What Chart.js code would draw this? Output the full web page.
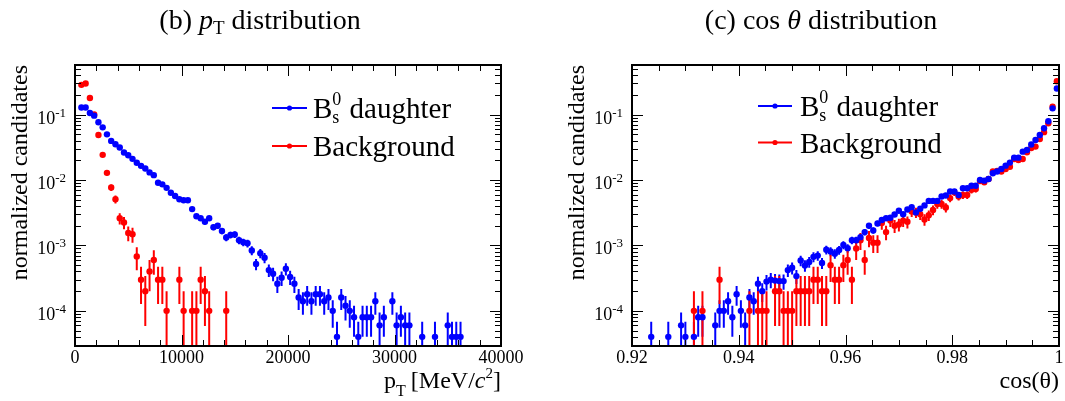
<!DOCTYPE html>
<html><head><meta charset="utf-8">
<script src="https://cdn.jsdelivr.net/npm/chart.js@4.4.1/dist/chart.umd.min.js"></script>
<style>
html,body{margin:0;padding:0;background:#fff;width:1065px;height:401px;overflow:hidden;}
#wrapA{position:absolute;left:0;top:0;width:532px;height:401px;}
#wrapB{position:absolute;left:532px;top:0;width:533px;height:401px;}
canvas{display:block;}
</style></head><body>
<div id="wrapA"><canvas id="cA" width="532" height="401"></canvas></div>
<div id="wrapB"><canvas id="cB" width="533" height="401"></canvas></div>
<script>
// ---------------- data ----------------
const ptBinCenters = [600,1000,1400,1800,2200,2600,3000,3400,3800,4200,4600,5000,5400,5800,6200,6600,7000,7400,7800,8200,8600,9000,9400,9800,10200,10600,11000,11400,11800,12200,12600,13000,13400,13800,14200,14600,15000,15400,15800,16200,16600,17000,17400,17800,18200,18600,19000,19400,19800,20200,20600,21000,21400,21800,22200,22600,23000,23400,23800,24200,24600,25000,25400,25800,26200,26600,27000,27400,27800,28200,28600,29000,29400,29800,30200,30600,31000,31400,31800,32200,32600,33000,33400,33800,34200,34600,35000,35400,35800,36200];
const ptDaughter = [0.129,0.129,0.106,0.0966,0.0764,0.064,0.050,0.0397,0.0353,0.0315,
 0.0264,0.024,0.0211,0.0184,0.0165,0.015,0.0131,0.0119,0.0091,0.0086,
 0.0076,0.0064,0.0057,0.0051,0.0049,0.0049,0.0036,0.0028,0.0026,0.0023,
 0.0026,0.0019,0.0020,0.00166,0.00132,0.00145,0.00147,0.0012,0.00112,0.00108,
 0.00084,0.00052,0.00076,0.00065,0.00042,0.00037,0.00026,0.00032,0.00044,0.00033,
 0.00026,0.00016,0.00014,0.00018,0.00014,0.00018,0.00018,0.00014,0.00016,0.0001,
 0.00004,0.00016,0.00012,0.0001,0.00008,0.00004,0.00008,0.00008,0.00008,0.00014,
 0.00006,0.00008,null,0.00014,0.00006,0.00008,0.00006,0.00006,null,null,
 0.00004,null,null,0.00004,null,null,0.00006,0.00004,0.00004,0.00004];
const ptBackground = [0.286,0.30,0.18,0.101,0.049,0.0243,0.0129,0.0077,0.0051,0.0026,
 0.00225,0.00155,0.00148,0.00068,0.0003,0.0002,0.0004,0.0006,0.0003,0.0003,
 0.0001,null,null,0.0003,0.0001,null,0.0001,0.0001,0.0003,0.0002,
 0.0001,null,null,null,0.0001,null,null,null,null,null,
 null,null,null,null,null,null,null,null,null,null,
 null,null,null,null,null,null,null,null,null,null,
 null,null,null,null,null,null,null,null,null,null,
 null,null,null,null,null,null,null,null,null,null,
 null,null,null,null,null,null,null,null,null,null];
const cosBinCenters = [0.9204,0.9212,0.922,0.9228,0.9236,0.9244,0.9252,0.926,0.9268,0.9276,
 0.9284,0.9292,0.93,0.9308,0.9316,0.9324,0.9332,0.934,0.9348,0.9356,
 0.9364,0.9372,0.938,0.9388,0.9396,0.9404,0.9412,0.942,0.9428,0.9436,
 0.9444,0.9452,0.946,0.9468,0.9476,0.9484,0.9492,0.95,0.9508,0.9516,
 0.9524,0.9532,0.954,0.9548,0.9556,0.9564,0.9572,0.958,0.9588,0.9596,
 0.9604,0.9612,0.962,0.9628,0.9636,0.9644,0.9652,0.966,0.9668,0.9676,
 0.9684,0.9692,0.97,0.9708,0.9716,0.9724,0.9732,0.974,0.9748,0.9756,
 0.9764,0.9772,0.978,0.9788,0.9796,0.9804,0.9812,0.982,0.9828,0.9836,
 0.9844,0.9852,0.986,0.9868,0.9876,0.9884,0.9892,0.99,0.9908,0.9916,
 0.9924,0.9932,0.994,0.9948,0.9956,0.9964,0.9972,0.998,0.9988,0.9996];
const cosDaughter = [null,null,null,null,4e-5,null,null,null,4e-5,null,
 null,6e-5,4e-5,null,4e-5,8e-5,8e-5,null,null,6e-5,
 1e-4,1e-4,1.4e-4,8e-5,1.8e-4,1e-4,6e-5,1.6e-4,1.4e-4,2.6e-4,
 2.0e-4,2.8e-4,3.0e-4,2.9e-4,2.85e-4,2.85e-4,4.2e-4,4.55e-4,3.4e-4,5.9e-4,
 4.95e-4,5.6e-4,6.7e-4,7.0e-4,5.4e-4,8.6e-4,8.1e-4,7.5e-4,8.5e-4,1.02e-3,
 9.1e-4,1.2e-3,1.2e-3,1.34e-3,1.6e-3,2.0e-3,1.7e-3,2.17e-3,2.45e-3,2.6e-3,
 2.65e-3,2.97e-3,3.4e-3,3.0e-3,3.55e-3,3.85e-3,3.2e-3,3.65e-3,4.1e-3,4.8e-3,
 4.8e-3,4.8e-3,5.6e-3,5.8e-3,6.7e-3,6.7e-3,5.9e-3,7.5e-3,7.5e-3,8.2e-3,
 8.2e-3,1.0e-2,9.8e-3,1.04e-2,1.27e-2,1.35e-2,1.48e-2,1.66e-2,1.85e-2,2.2e-2,
 2.2e-2,2.72e-2,2.88e-2,3.5e-2,4.1e-2,4.9e-2,6.2e-2,7.95e-2,0.125,0.252];
const cosBackground = [null,null,null,null,null,null,null,null,null,null,
 null,null,null,null,1e-4,null,1e-4,null,null,null,
 3e-4,null,null,null,null,null,null,1e-4,null,1e-4,
 1e-4,1e-4,null,2e-4,2e-4,1e-4,1e-4,1e-4,2e-4,2e-4,
 2e-4,2e-4,3e-4,3e-4,2e-4,2e-4,5e-4,3e-4,3e-4,5e-4,
 6e-4,3e-4,9e-4,1.2e-3,6e-4,1.3e-3,1.1e-3,1.1e-3,2.2e-3,1.6e-3,
 2.4e-3,2.0e-3,2.1e-3,2.4e-3,2.3e-3,3.3e-3,3.2e-3,3.0e-3,2.5e-3,2.9e-3,
 3.5e-3,4.3e-3,4.3e-3,3.8e-3,5.3e-3,6.5e-3,5.6e-3,5.9e-3,5.9e-3,7.1e-3,
 7.3e-3,9.7e-3,9.3e-3,1.04e-2,1.35e-2,1.38e-2,1.35e-2,1.48e-2,1.6e-2,2.1e-2,
 2.03e-2,2.1e-2,2.66e-2,3.1e-2,3.25e-2,4.25e-2,5.4e-2,7.4e-2,0.133,0.325];
const ptTicks = [0,10000,20000,30000,40000];
const cosTicks = [0.92,0.94,0.96,0.98,1];
const yDecadeTicks = [1e-4,1e-3,1e-2,1e-1];
const yDecadeExponents = ['-4','-3','-2','-1'];
const seriesLabels = ['daughter','Background'];
// weight of a single entry (for Poisson error bars)
const daughterEntryWeight = 2e-5;
const backgroundEntryWeight = 1e-4;

// ---------------- drawing helpers ----------------
const SERIF = '"Liberation Serif","Times New Roman",serif';
Chart.defaults.font.family = SERIF;
Chart.defaults.font.size = 18;
Chart.defaults.color = '#000';
const BLUE = 'rgb(0,0,255)', RED = 'rgb(255,0,0)';
function fnt(s, it){ return (it ? 'italic ' : '') + s + 'px ' + SERIF; }
function richWidth(ctx, parts){ let w = 0; for (const p of parts){ ctx.font = fnt(p.s, p.i); w += ctx.measureText(p.t).width + (p.gap || 0); } return w; }
function drawRich(ctx, parts, x, y, align){
  const w = richWidth(ctx, parts);
  let cx = align === 'right' ? x - w : (align === 'center' ? x - w / 2 : x);
  ctx.textAlign = 'left'; ctx.textBaseline = 'alphabetic';
  for (const p of parts){ ctx.font = fnt(p.s, p.i); ctx.fillText(p.t, cx, y + (p.dy || 0)); cx += ctx.measureText(p.t).width + (p.gap || 0); }
}
function toPoints(xs, ys){ const out = []; xs.forEach((x, i) => { if (ys[i] !== null) out.push({x: x, y: ys[i]}); }); return out; }

const errorBars = {
  id: 'errorBars',
  beforeDatasetsDraw(chart){
    const {ctx, chartArea: a, scales: {y}} = chart;
    ctx.save();
    ctx.beginPath(); ctx.rect(a.left, a.top, a.right - a.left, a.bottom - a.top); ctx.clip();
    chart.data.datasets.forEach((ds, i) => {
      const meta = chart.getDatasetMeta(i);
      ctx.strokeStyle = ds.backgroundColor; ctx.lineWidth = 2;
      ctx.beginPath();
      meta.data.forEach((pt, j) => {
        const v = ds.data[j].y; const e = Math.sqrt(v * ds.entryWeight);
        const y1 = y.getPixelForValue(v + e);
        const lo = v - e;
        const y2 = lo > v * 1e-3 ? y.getPixelForValue(lo) : a.bottom + 5;
        ctx.moveTo(pt.x, y1); ctx.lineTo(pt.x, y2);
      });
      ctx.stroke();
    });
    ctx.restore();
  }
};

const rootStyle = {
  id: 'rootStyle',
  afterDraw(chart, args, o){
    const {ctx, chartArea: a, scales: {x, y}} = chart;
    ctx.save();
    ctx.strokeStyle = '#000'; ctx.lineWidth = 1;
    ctx.beginPath();
    const n = Math.round((x.max - x.min) / o.xMinor);
    for (let i = 0; i <= n; i++){
      const v = x.min + i * o.xMinor;
      const px = Math.round(x.getPixelForValue(v)) + 0.5;
      const L = (i % o.xPerMajor === 0) ? 11 : 6;
      ctx.moveTo(px, a.bottom); ctx.lineTo(px, a.bottom - L);
      ctx.moveTo(px, a.top); ctx.lineTo(px, a.top + L);
    }
    for (let d = -5; d <= 0; d++) for (let m = 1; m <= 9; m++){
      const v = m * Math.pow(10, d);
      if (v < y.min || v > y.max) continue;
      const py = Math.round(y.getPixelForValue(v)) + 0.5;
      const L = m === 1 ? 11 : 6;
      ctx.moveTo(a.left, py); ctx.lineTo(a.left + L, py);
      ctx.moveTo(a.right, py); ctx.lineTo(a.right - L, py);
    }
    ctx.stroke();
    ctx.lineWidth = 2;
    ctx.strokeRect(a.left, a.top, a.right - a.left, a.bottom - a.top);
    ctx.fillStyle = '#000';
    // y tick labels
    yDecadeTicks.forEach((v, i) => {
      const py = y.getPixelForValue(v);
      drawRich(ctx, [{t: '10', s: 18}, {t: yDecadeExponents[i], s: 13, dy: -7}], a.left - 9, py + 9, 'right');
    });
    // y title
    ctx.save();
    ctx.translate(a.left - 48, a.top);
    ctx.rotate(-Math.PI / 2);
    ctx.font = fnt(24); ctx.textAlign = 'right'; ctx.textBaseline = 'alphabetic';
    ctx.fillText('normalized candidates', 0, 0);
    ctx.restore();
    // x title
    drawRich(ctx, o.xTitle, a.right, 388, 'right');
    // chart title
    drawRich(ctx, o.title, o.titleX, 29, 'center');
    // legend
    const lg = o.legend;
    [[BLUE, lg.y1], [RED, lg.y2]].forEach(([c, ly]) => {
      ctx.strokeStyle = c; ctx.fillStyle = c; ctx.lineWidth = 2;
      ctx.beginPath(); ctx.moveTo(lg.x1, ly); ctx.lineTo(lg.x2, ly); ctx.stroke();
      ctx.beginPath(); ctx.arc((lg.x1 + lg.x2) / 2, ly, 2.6, 0, Math.PI * 2); ctx.fill();
    });
    ctx.fillStyle = '#000';
    ctx.textAlign = 'left'; ctx.textBaseline = 'alphabetic';
    const bl1 = lg.y1 + 10;
    ctx.font = fnt(29); ctx.fillText('B', lg.tx, bl1);
    const bw = ctx.measureText('B').width;
    ctx.font = fnt(18); ctx.fillText('s', lg.tx + bw, bl1 + 5); ctx.fillText('0', lg.tx + bw, bl1 - 13);
    const sw = Math.max(ctx.measureText('s').width, ctx.measureText('0').width);
    ctx.font = fnt(29); ctx.fillText(' ' + seriesLabels[0], lg.tx + bw + sw + 1, bl1);
    ctx.fillText(seriesLabels[1], lg.tx, lg.y2 + 10);
    ctx.restore();
  }
};

function makeChart(id, xs, blue, red, xmin, xmax, xTicks, padRight, yWidth, styleOpts){
  return new Chart(document.getElementById(id), {
    type: 'scatter',
    data: { datasets: [
      { label: 'B_s^0 ' + seriesLabels[0], data: toPoints(xs, blue), backgroundColor: BLUE, borderColor: BLUE,
        pointRadius: 3.2, pointBorderWidth: 0, pointHoverRadius: 3.2, showLine: false, entryWeight: daughterEntryWeight },
      { label: seriesLabels[1], data: toPoints(xs, red), backgroundColor: RED, borderColor: RED,
        pointRadius: 3.2, pointBorderWidth: 0, pointHoverRadius: 3.2, showLine: false, entryWeight: backgroundEntryWeight }
    ]},
    options: {
      responsive: false, animation: false, devicePixelRatio: 1,
      layout: { padding: { left: 0, top: 65, right: padRight, bottom: 0 }, autoPadding: false },
      plugins: { legend: { display: false }, title: { display: false }, tooltip: { enabled: false }, rootStyle: styleOpts },
      events: [],
      scales: {
        x: { type: 'linear', min: xmin, max: xmax,
          grid: { display: false, drawTicks: false }, border: { display: false },
          afterBuildTicks: s => { s.ticks = xTicks.map(v => ({ value: v })); },
          afterFit: s => { s.height = 55; },
          ticks: { color: '#000', font: { family: SERIF, size: 18 }, padding: 1, maxRotation: 0, autoSkip: false,
            callback: v => String(v) } },
        y: { type: 'logarithmic', min: 2.9e-5, max: 0.575,
          grid: { display: false, drawTicks: false }, border: { display: false },
          afterFit: s => { s.width = yWidth; },
          ticks: { display: false } }
      }
    },
    plugins: [errorBars, rootStyle]
  });
}

makeChart('cA', ptBinCenters, ptDaughter, ptBackground, 0, 40000, ptTicks, 31, 75, {
  xMinor: 2000, xPerMajor: 5,
  title: [{t: '(b) ', s: 28}, {t: 'p', s: 28, i: true}, {t: 'T', s: 19, dy: 5, gap: 7}, {t: 'distribution', s: 28}], titleX: 260,
  xTitle: [{t: 'p', s: 24}, {t: 'T', s: 16, dy: 8, gap: 5}, {t: '[MeV/', s: 24}, {t: 'c', s: 24, i: true}, {t: '2', s: 15, dy: -10}, {t: ']', s: 24}],
  legend: { x1: 272, x2: 307, y1: 108, y2: 146, tx: 313 }
});
makeChart('cB', cosBinCenters, cosDaughter, cosBackground, 0.92, 1.0, cosTicks, 6, 100, {
  xMinor: 0.005, xPerMajor: 4,
  title: [{t: '(c) cos ', s: 28}, {t: 'θ', s: 28, i: true}, {t: ' distribution', s: 28}], titleX: 289,
  xTitle: [{t: 'cos(θ)', s: 24}],
  legend: { x1: 226, x2: 260, y1: 106, y2: 142.5, tx: 268 }
});
</script>
</body></html>
